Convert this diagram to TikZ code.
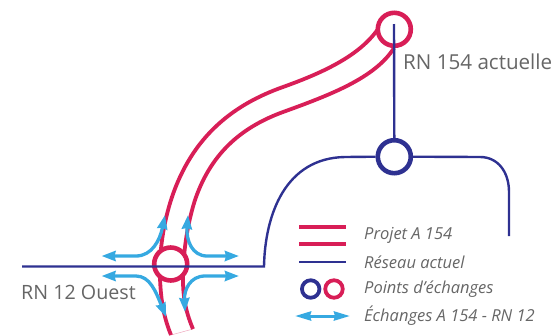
\documentclass[tikz,border=0pt]{standalone}
\usepackage{fontspec}
\setmainfont{Open Sans}
\definecolor{rred}{HTML}{D81E57}
\definecolor{nblue}{HTML}{2E3191}
\definecolor{sky}{HTML}{36A9E1}
\definecolor{txt}{HTML}{666666}
\usetikzlibrary{arrows.meta}
\tikzset{
 projet/.style={draw=rred,line width=3.8pt},
 reseau/.style={draw=nblue,line width=2.4pt},
 echangeb/.style={draw=sky,line width=3.3pt,{Stealth[length=14pt,width=10pt,inset=1pt]}-{Stealth[length=14pt,width=10pt,inset=1pt]}},
 ring/.style={circle,draw,fill=white,line width=4.6pt,minimum size=33pt,inner sep=0pt},
 lab/.style={text=txt,anchor=west,inner sep=0pt},
 leg/.style={text=txt,font=\fontsize{16.5}{18}\itshape\selectfont,anchor=west,inner sep=0pt},
}
\begin{document}
\begin{tikzpicture}[x=1pt,y=-1pt]
\useasboundingbox (0,0) rectangle (553,335);
\coordinate (wEnd) at (22,266.5);
\coordinate (wBend) at (264,266.5);
\coordinate (sTop) at (394,24);
\coordinate (eEnd) at (509,236);
\coordinate (botA) at (171,335);
\coordinate (botB) at (193,329);
\draw[rred!40,line width=.5pt] (botA) -- (botB);
\draw[projet] (378,29) .. controls (360,55) and (325,72) .. (283,87)
  .. controls (235,104) and (192,135) .. (171,200)
  .. controls (164,222) and (159,250) .. (160,278)
  .. controls (161,305) and (165,320) .. (botA);
\draw[projet] (394,48) .. controls (375,78) and (330,95) .. (283,112)
  .. controls (245,126) and (212,150) .. (195,200)
  .. controls (188,222) and (183,250) .. (183,280)
  .. controls (183,300) and (187,315) .. (botB);
\node[ring,draw=rred] (rA) at (394.3,29.3) {};
\node[ring,draw=rred] (rC) at (170.7,264) {};
\coordinate (nw) at (165,215);
\coordinate (ne) at (188,215);
\coordinate (sw) at (166,317);
\coordinate (se) at (185,312);
\coordinate (wa) at (101.5,256);
\coordinate (wb) at (101.5,276);
\coordinate (ea) at (239,256);
\coordinate (eb) at (239,276);
\draw[echangeb] (wa) -- (136,256) .. controls (152,256) and (160,240) .. (nw);
\draw[echangeb] (ea) -- (207,256) .. controls (192,256) and (186,240) .. (ne);
\draw[echangeb] (wb) -- (136,276) .. controls (150,276) and (156,292) .. (sw);
\draw[echangeb] (eb) -- (205,276) .. controls (190,276) and (184,290) .. (se);
\node[ring,draw=nblue] (rB) at (394.3,156.7) {};
\draw[reseau] (wEnd) -- (wBend) .. controls (265,215) and (285,158) .. (345,157) -- (rB.west);
\draw[reseau] (rB.east) -- (480,157) .. controls (498,157) and (509,172) .. (509,192) -- (eEnd);
\draw[reseau] (sTop) -- (rB.north);
\node[lab,font=\fontsize{20.6}{22}\selectfont] (l1) at (403,62) {RN 154 actuelle};
\node[lab,font=\fontsize{19.7}{22}\selectfont] (l2) at (21,292) {RN 12 Ouest};
\coordinate (p1) at (299,227); \coordinate (p2) at (346,227);
\coordinate (p3) at (299,244); \coordinate (p4) at (346,244);
\coordinate (p5) at (299,262); \coordinate (p6) at (346,262);
\coordinate (p7) at (295,316); \coordinate (p8) at (350,316);
\draw[projet] (p1) -- (p2);
\draw[projet] (p3) -- (p4);
\draw[reseau] (p5) -- (p6);
\node[circle,draw=nblue,line width=3.8pt,minimum size=17.5pt,inner sep=0pt] (k1) at (310.7,289) {};
\node[circle,draw=rred,line width=3.8pt,minimum size=17.5pt,inner sep=0pt] (k2) at (334,289) {};
\draw[draw=sky,line width=3pt,{Stealth[length=16pt,width=9pt,inset=1pt]}-{Stealth[length=16pt,width=9pt,inset=1pt]}] (p7) -- (p8);
\node[leg] (t1) at (364,235) {Projet A 154};
\node[leg] (t2) at (364,262) {Réseau actuel};
\node[leg] (t3) at (364,289) {Points d'échanges};
\node[leg] (t4) at (364,316) {Échanges A 154 - RN 12};
\end{tikzpicture}
\end{document}
